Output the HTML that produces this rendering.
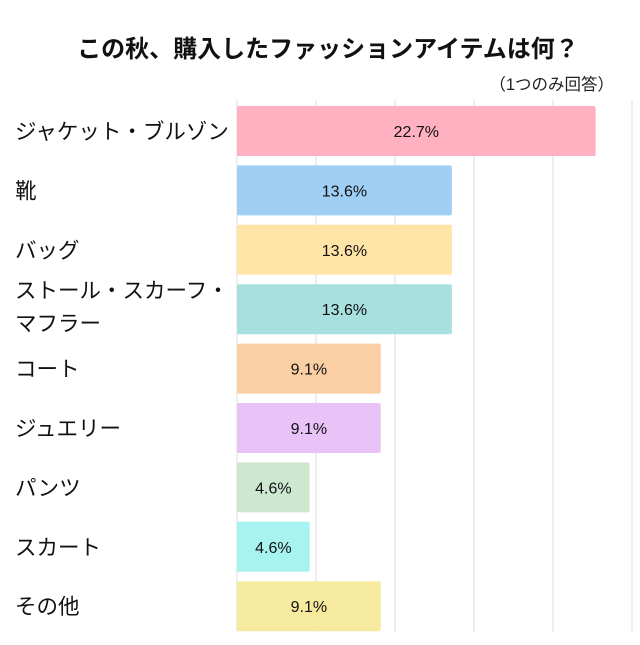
<!DOCTYPE html>
<html><head><meta charset="utf-8"><style>
body{margin:0;background:#fff;}
svg text{font-family:"Liberation Sans","Noto Sans CJK JP",sans-serif;}
</style></head><body>
<svg width="640" height="640" viewBox="0 0 640 640" id="chart">
<text x="328" y="57" text-anchor="middle" font-size="24" font-weight="bold" fill="#111">この秋、購入したファッションアイテムは何？</text>
<text x="614" y="90" text-anchor="end" font-size="16.5" fill="#222">（1つのみ回答）</text>
<g id="grid"></g><g id="bars"></g><g id="labels"></g>
</svg>
<script>
const categories=[["ジャケット・ブルゾン"],["靴"],["バッグ"],["ストール・スカーフ・","マフラー"],["コート"],["ジュエリー"],["パンツ"],["スカート"],["その他"]];
const values=[22.7,13.6,13.6,13.6,9.1,9.1,4.6,4.6,9.1];
const valueLabels=["22.7%","13.6%","13.6%","13.6%","9.1%","9.1%","4.6%","4.6%","9.1%"];
const colors=["#ffb1c1","#9fcff5","#ffe4a8","#a8dfdf","#fbcfa4","#e9c3f7","#cde8cf","#a7f3ef","#f6ea9e"];
const ticks=[0,5,10,15,20,25];
const NS="http://www.w3.org/2000/svg";
const x=v=>237+v*15.8;
const yc=i=>131+i*59.4;
const g=document.getElementById('grid'),b=document.getElementById('bars'),l=document.getElementById('labels');
ticks.forEach((t,i)=>{
 const ln=document.createElementNS(NS,'line');
 
 
 ln.setAttribute('x1',x(t));ln.setAttribute('x2',x(t));ln.setAttribute('y1',100);ln.setAttribute('y2',632);
 ln.setAttribute('stroke','#ddd');ln.setAttribute('stroke-width',1);
 g.appendChild(ln);
});
values.forEach((v,i)=>{
 const r=document.createElementNS(NS,'rect');
 
 
 r.setAttribute('x',x(0));r.setAttribute('y',yc(i)-25);r.setAttribute('width',x(v)-x(0));r.setAttribute('height',50);
 r.setAttribute('rx',2);r.setAttribute('fill',colors[i]);
 b.appendChild(r);
 const t=document.createElementNS(NS,'text');
 
 
 t.setAttribute('x',(x(0)+x(v))/2);t.setAttribute('y',yc(i)+6);t.setAttribute('text-anchor','middle');
 t.setAttribute('font-size',16);t.setAttribute('fill','#111');t.textContent=valueLabels[i];
 b.appendChild(t);
 const lines=categories[i];
 lines.forEach((s,k)=>{
  const c=document.createElementNS(NS,'text');
  
  
  const off=lines.length>1?(k===0?-11:22):8;
  c.setAttribute('x',15);c.setAttribute('y',yc(i)+off);c.setAttribute('font-size',21.5);c.setAttribute('fill','#111');
  c.textContent=s;l.appendChild(c);
 });
});
</script>
</body></html>
